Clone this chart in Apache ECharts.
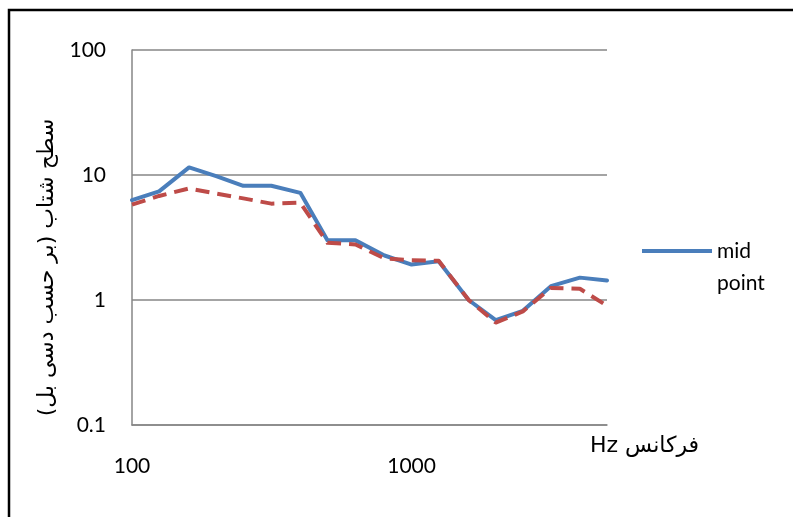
<!DOCTYPE html>
<html>
<head>
<meta charset="utf-8">
<script src="https://cdn.jsdelivr.net/npm/echarts@6/dist/echarts.min.js"></script>
<style>
html,body{margin:0;padding:0;background:#fff;}
#c{width:793px;height:517px;}
</style>
</head>
<body>
<div id="c"></div>
<script>
const freqs = [100,125,160,200,250,315,400,500,630,800,1000,1250,1600,2000,2500,3150,4000,5000];
const midPoint = [6.3,7.4,11.5,9.8,8.2,8.2,7.2,3.0,3.0,2.27,1.92,2.04,1.0,0.69,0.82,1.29,1.51,1.43];
const second = [5.8,6.8,7.8,7.1,6.5,5.9,6.0,2.87,2.78,2.15,2.08,2.06,1.0,0.66,0.81,1.25,1.23,0.9];
const seriesNames = ['mid point', 'series 2'];
const xName = '\u2067فرکانس Hz\u2069';
const yName = 'سطح شتاب (بر حسب دسی بل)\u200F';

const chart = echarts.init(document.getElementById('c'), null, {renderer:'canvas'});
const numFont = 'Lato, Carlito, "Open Sans", sans-serif';
const faFont = '"DejaVu Sans", "Noto Sans", sans-serif';
chart.setOption({
  animation: false,
  backgroundColor: '#ffffff',
  grid: {left: 132, top: 50, right: 186, bottom: 92, containLabel: false},
  graphic: [{
    type: 'rect', shape: {x: 9, y: 10, width: 820, height: 540},
    style: {fill: 'none', stroke: '#000', lineWidth: 2.5}, silent: true, z: 100
  }],
  legend: {
    data: [seriesNames[0]],
    left: 637, top: 198,
    itemWidth: 70, itemHeight: 4, icon: 'rect',
    formatter: function(n){ return '\n' + n.replace(' ', '\n'); },
    textStyle: {fontFamily: numFont, fontSize: 21, color: '#000', lineHeight: 32},
    itemGap: 6
  },
  xAxis: {
    type: 'log', logBase: 10, min: 100, max: 5000,
    name: xName, nameLocation: 'end', nameGap: -17,
    nameTextStyle: {fontFamily: faFont, fontSize: 22, color: '#000', align: 'left', verticalAlign: 'top', padding: [10,0,0,0]},
    axisLine: {show: true, lineStyle: {color: '#868686', width: 1.5}},
    axisTick: {show: false},
    splitLine: {show: false},
    minorTick: {show: false},
    axisLabel: {fontFamily: numFont, fontSize: 21, color: '#000', margin: 31, showMaxLabel: false,
      formatter: function(v){ return String(Math.round(v)); }}
  },
  yAxis: {
    type: 'log', logBase: 10, min: 0.1, max: 100,
    name: yName, nameLocation: 'middle', nameRotate: 90, nameGap: 70,
    nameTextStyle: {fontFamily: faFont, fontSize: 22, color: '#000', padding: [0,60,0,0]},
    axisLine: {show: true, lineStyle: {color: '#868686', width: 1.5}},
    axisTick: {show: false},
    splitLine: {show: true, lineStyle: {color: '#868686', width: 1.5}},
    axisLabel: {fontFamily: numFont, fontSize: 21, color: '#000', margin: 26,
      formatter: function(v){ return String(+v.toPrecision(6)); }}
  },
  series: [
    {name: seriesNames[0], type: 'line', data: freqs.map((f,i)=>[f, midPoint[i]]),
     showSymbol: false, symbol: 'none', color: '#4A7EBB',
     lineStyle: {color: '#4A7EBB', width: 4, join: 'round', cap: 'round'}, z: 2},
    {name: seriesNames[1], type: 'line', data: freqs.map((f,i)=>[f, second[i]]),
     showSymbol: false, symbol: 'none', color: '#BE4B48',
     lineStyle: {color: '#BE4B48', width: 4, type: [14, 8], join: 'round', cap: 'butt'}, z: 3}
  ]
});
</script>
</body>
</html>
